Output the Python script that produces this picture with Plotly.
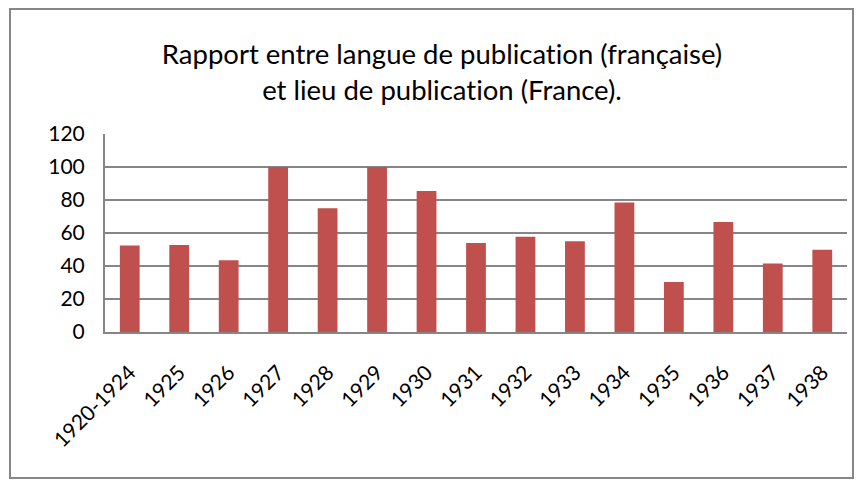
import plotly.graph_objects as go

categories = ["1920-1924", "1925", "1926", "1927", "1928", "1929", "1930", "1931",
              "1932", "1933", "1934", "1935", "1936", "1937", "1938"]
values = [52.4, 52.8, 43.5, 100, 75, 100, 85.5, 54, 57.7, 55, 78.5, 30.3, 66.7, 41.5, 49.8]
y_ticks = [0, 20, 40, 60, 80, 100, 120]

ZWNJ = "\u200c"
title_text = ("Rapport entre langue de publicat" + ZWNJ + "ion (française)<br>"
              "et lieu de publicat" + ZWNJ + "ion (France).")

# the page body adds an 8px offset; figure sized to fill the rest of the window
OFF = 8
W, H = 864 - OFF, 487 - OFF
L, R, T, B = 105 - OFF, 17, 134 - OFF, H - (332 - OFF)
pw, ph = W - L - R, H - T - B

def px(x):
    return (x - OFF - L) / pw

def py(y):
    return (H - B - (y - OFF)) / ph

fig = go.Figure(go.Bar(x=categories, y=values, marker_color="#C0504D",
                       marker_line_width=0))

fig.update_layout(
    width=W, height=H,
    margin=dict(l=L, r=R, t=T, b=B, autoexpand=False),
    paper_bgcolor="white", plot_bgcolor="white",
    bargap=0.6,
    showlegend=False,
    font=dict(family="Lato, Open Sans, sans-serif", color="black"),
    title=dict(text=title_text,
               x=(442 - OFF) / W, xanchor="center", y=1 - (64 - OFF) / H, yanchor="middle",
               font=dict(size=27.5, family="Lato, sans-serif")),
    xaxis=dict(tickangle=-45, tickfont=dict(size=21), showline=True, linecolor="#868686",
               linewidth=2, ticks="", showgrid=False, ticklabelstandoff=18),
    yaxis=dict(range=[0, 120], tickvals=y_ticks, tickfont=dict(size=21),
               showgrid=True, gridcolor="#868686", gridwidth=2,
               showline=True, linecolor="#868686", linewidth=2, ticks="",
               zeroline=False, ticklabelstandoff=14),
    shapes=[dict(type="rect", xref="paper", yref="paper",
                 x0=px(10), x1=px(853), y0=py(478), y1=py(9),
                 line=dict(color="#868686", width=2), fillcolor="rgba(0,0,0,0)",
                 layer="below")],
)

fig.write_html("out.html")
